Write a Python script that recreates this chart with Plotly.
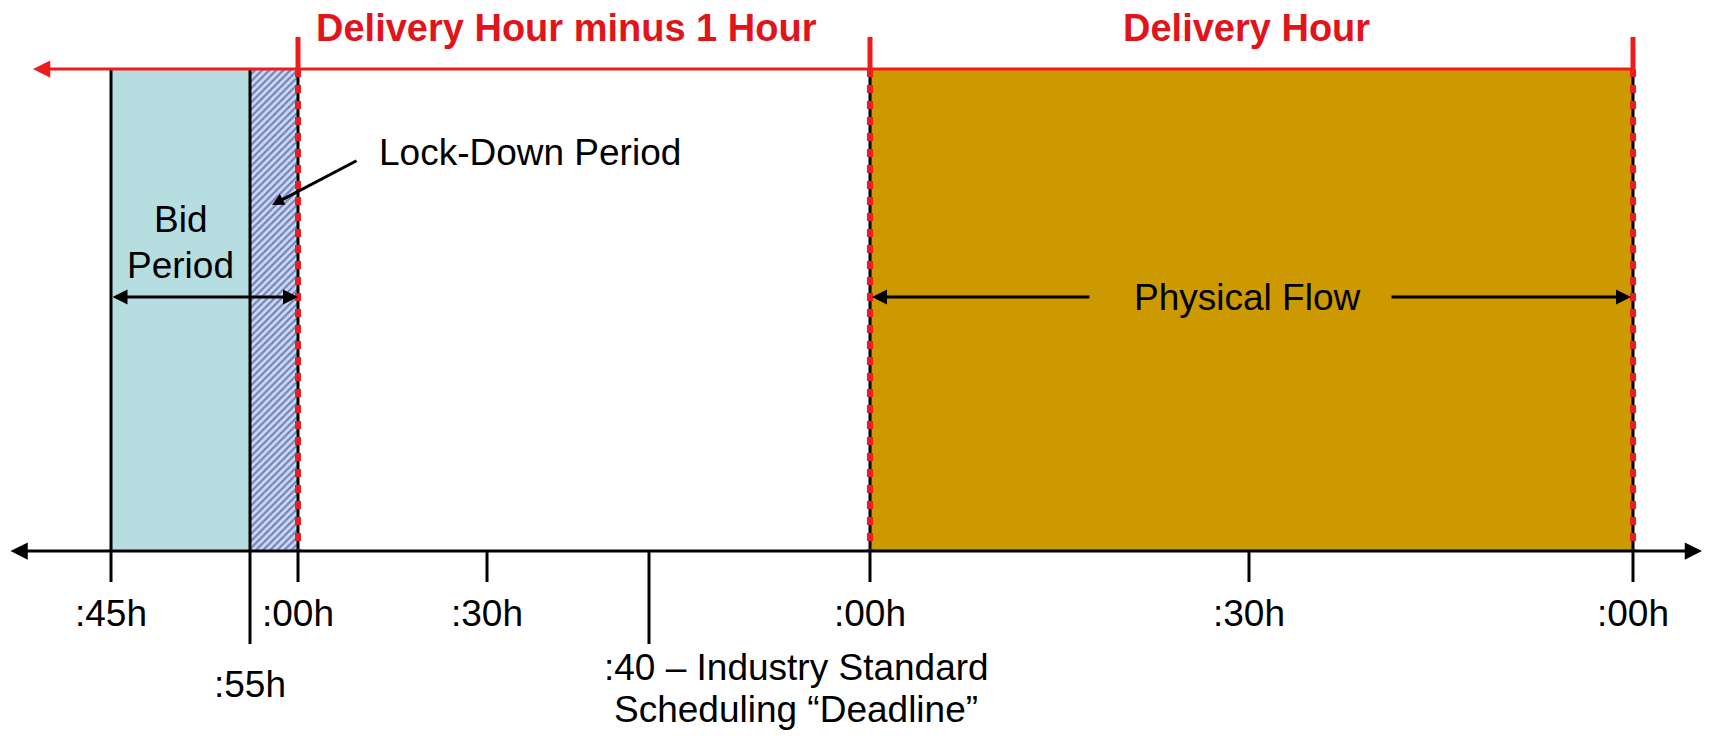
import plotly.graph_objects as go

# ---------------- data (schematic timeline, diagram units) ----------------
tick_labels = [":45h", ":55h", ":00h", ":30h", ":40", ":00h", ":30h", ":00h"]
tick_pos = [111, 250, 298, 487, 649, 870, 1249, 1633]
tick_long = [False, True, False, False, True, False, False, False]

hour_marks = [298, 870, 1633]                      # hour boundaries
hour_titles = ["Delivery Hour minus 1 Hour", "Delivery Hour"]
hour_title_pos = [566, 1246]

deadline_lines = [":40 – Industry Standard", "Scheduling “Deadline”"]
bid_lines = ["Bid", "Period"]

# ---------------- styling ----------------
W, H = 1710, 740
TOP_Y, AXIS_Y = 69, 551
FONT = "Liberation Sans, Arial, sans-serif"
RED = "#EE1C1C"
TXT_RED = "#E2141B"
BLUE = "#B6DDE0"
GOLD = "#CC9900"

fig = go.Figure()

# lock-down hatched region
x0, x1 = tick_pos[1], tick_pos[2]
fig.add_trace(go.Scatter(
    x=[x0, x1, x1, x0, x0], y=[TOP_Y, TOP_Y, AXIS_Y, AXIS_Y, TOP_Y],
    mode="lines", fill="toself", line=dict(width=0, color="rgba(0,0,0,0)"),
    fillcolor="#CCD8F4",
    fillpattern=dict(shape="/", bgcolor="#CCD8F4", fgcolor="#1E2F7A", size=5, solidity=0.45),
    hoverinfo="skip", showlegend=False))

shapes = []
# bid period
shapes.append(dict(type="rect", xref="x", yref="y", x0=tick_pos[0], x1=tick_pos[1],
                   y0=TOP_Y, y1=AXIS_Y, fillcolor=BLUE, line=dict(width=0), layer="below"))
# delivery hour (physical flow)
shapes.append(dict(type="rect", xref="x", yref="y", x0=hour_marks[1], x1=hour_marks[2],
                   y0=TOP_Y, y1=AXIS_Y, fillcolor=GOLD, line=dict(width=0), layer="below"))

# black vertical boundaries of the bid / lock-down boxes
for xv in [tick_pos[0], tick_pos[1]] + hour_marks:
    shapes.append(dict(type="line", xref="x", yref="y", x0=xv, x1=xv, y0=TOP_Y, y1=AXIS_Y,
                       line=dict(color="black", width=3)))

# ticks below the axis
for xv, lg in zip(tick_pos, tick_long):
    shapes.append(dict(type="line", xref="x", yref="y", x0=xv, x1=xv, y0=AXIS_Y,
                       y1=AXIS_Y + (93 if lg else 31), line=dict(color="black", width=3)))

# red dotted hour boundaries + red ticks above
for xv in hour_marks:
    shapes.append(dict(type="line", xref="x", yref="y", x0=xv, x1=xv, y0=TOP_Y, y1=AXIS_Y,
                       line=dict(color=RED, width=6, dash="8px,8px")))
    shapes.append(dict(type="line", xref="x", yref="y", x0=xv, x1=xv, y0=37, y1=TOP_Y + 1,
                       line=dict(color=RED, width=5)))

ann = []
# top red arrow
ann.append(dict(x=33, y=TOP_Y, ax=hour_marks[2], ay=TOP_Y, xref="x", yref="y", axref="x", ayref="y",
                text="", showarrow=True, arrowhead=2, arrowsize=1.15, arrowwidth=3, arrowcolor=RED,
                standoff=0, startstandoff=0))
# bottom axis, double-headed
ann.append(dict(x=1702, y=AXIS_Y, ax=9, ay=AXIS_Y, xref="x", yref="y", axref="x", ayref="y",
                text="", showarrow=True, arrowhead=2, startarrowhead=2, arrowside="end+start",
                arrowsize=1.15, startarrowsize=1.15, arrowwidth=3, arrowcolor="black",
                standoff=0, startstandoff=0))
# bid period double arrow
ann.append(dict(x=tick_pos[2], y=297, ax=tick_pos[0], ay=297, xref="x", yref="y", axref="x", ayref="y",
                text="", showarrow=True, arrowhead=2, startarrowhead=2, arrowside="end+start",
                arrowsize=1.0, startarrowsize=1.0, arrowwidth=3, arrowcolor="black",
                standoff=0, startstandoff=0))
# physical flow arrows
ann.append(dict(x=hour_marks[1] + 2, y=297, ax=1091, ay=297, xref="x", yref="y", axref="x", ayref="y",
                text="", showarrow=True, arrowhead=2, arrowsize=1.0, arrowwidth=3, arrowcolor="black",
                standoff=0, startstandoff=0))
ann.append(dict(x=hour_marks[2] - 2, y=297, ax=1390, ay=297, xref="x", yref="y", axref="x", ayref="y",
                text="", showarrow=True, arrowhead=2, arrowsize=1.0, arrowwidth=3, arrowcolor="black",
                standoff=0, startstandoff=0))
# lock-down pointer
ann.append(dict(x=272, y=205, ax=358, ay=160, xref="x", yref="y", axref="x", ayref="y",
                text="", showarrow=True, arrowhead=2, arrowsize=0.8, arrowwidth=3, arrowcolor="black",
                standoff=0, startstandoff=0))

def txt(s, x, y, size=37, color="black", bold=False):
    return dict(x=x, y=y, xref="x", yref="y", text=s, showarrow=False, xanchor="center",
                yanchor="middle", font=dict(family=FONT, size=size, color=color,
                                            weight="bold" if bold else "normal"))

for t, xp in zip(hour_titles, hour_title_pos):
    ann.append(txt(t, xp, 28, size=38, color=TXT_RED, bold=True))

ann.append(txt("Lock-Down Period", 530, 152))
ann.append(txt(bid_lines[0], 180, 219))
ann.append(txt(bid_lines[1], 180, 265))
ann.append(txt("Physical Flow", 1247, 297))

for lab, xv, lg in zip(tick_labels, tick_pos, tick_long):
    if lab == ":40":
        continue
    ann.append(txt(lab, xv, 684 if lg else 613))
ann.append(txt(deadline_lines[0], 796, 667))
ann.append(txt(deadline_lines[1], 796, 709))

fig.update_layout(
    width=W, height=H, margin=dict(l=0, r=0, t=0, b=0),
    paper_bgcolor="white", plot_bgcolor="white", showlegend=False,
    xaxis=dict(range=[0, W], visible=False, fixedrange=True),
    yaxis=dict(range=[H, 0], visible=False, fixedrange=True),
    shapes=shapes, annotations=ann, dragmode=False,
)

fig.write_html("out.html", config={"displayModeBar": False},
               post_script="document.body.style.margin='0';")
